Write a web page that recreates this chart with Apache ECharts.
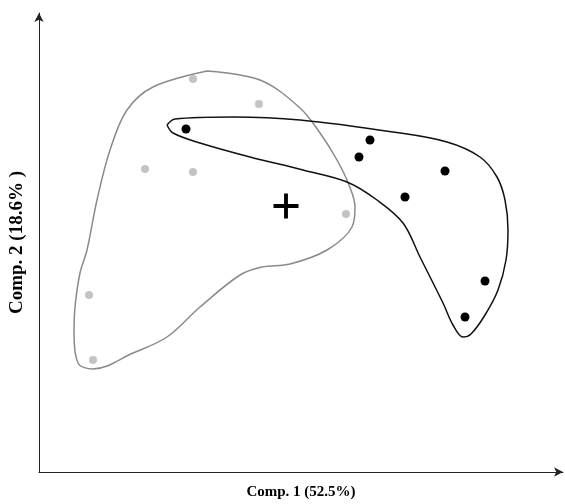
<!DOCTYPE html>
<html><head><meta charset="utf-8">
<script src="https://cdn.jsdelivr.net/npm/echarts@6/dist/echarts.min.js"></script>
<style>html,body{margin:0;padding:0;background:#fff}#c{width:565px;height:504px}</style>
</head><body><div id="c"></div>
<script>
// Values on arbitrary score scale (x 0..524, y 0..459)
const grayPoints = [[154,393],[220,368],[106,303],[154,300],[307,258],[50,177],[54,112]];
const blackPoints = [[147,343],[331,332],[320,315],[406,301],[366,275],[446,191],[426,155]];
const centroid = [[247,266]];
const grayHull = [[168,401],[221,392],[261,364],[281,339],[298,312],[310,287],[316,265],[313,245],[288,222],[251,208],[223,205],[201,197],[161,165],[128,135],[94,119],[54,103],[39,109],[35,139],[36,165],[41,199],[48,222],[58,272],[71,322],[88,362],[114,385],[168,401]];
const blackHull = [[128,347],[136,353],[194,355],[261,352],[354,340],[408,330],[441,315],[458,295],[466,272],[469,242],[467,212],[459,182],[446,157],[432,138],[424,135],[414,147],[404,169],[381,215],[364,249],[338,272],[308,290],[264,302],[211,315],[161,329],[134,339],[128,347]];
const xName = 'Comp. 1 (52.5%)';
const yName = 'Comp. 2 (18.6% )';

const chart = echarts.init(document.getElementById('c'));
chart.setOption({
  animation:false,
  grid:{left:39, right:2, top:13, bottom:32, containLabel:false, outerBoundsMode:'none'},
  xAxis:{type:'value', min:0, max:524, name:xName, nameLocation:'middle', nameGap:13,
    nameTextStyle:{fontFamily:'Liberation Serif', fontWeight:'bold', fontSize:15, color:'#000'},
    axisLine:{show:true, lineStyle:{color:'#222', width:1}, symbol:['none','arrow'], symbolSize:[7,9]},
    axisTick:{show:false}, axisLabel:{show:false}, splitLine:{show:false}},
  yAxis:{type:'value', min:0, max:459, name:yName, nameLocation:'middle', nameGap:12, nameRotate:90,
    nameTextStyle:{fontFamily:'Liberation Serif', fontWeight:'bold', fontSize:19, color:'#000'},
    axisLine:{show:true, lineStyle:{color:'#222', width:1}, symbol:['none','arrow'], symbolSize:[7,9]},
    axisTick:{show:false}, axisLabel:{show:false}, splitLine:{show:false}},
  series:[
    {type:'line', data:grayHull, smooth:0.35, symbol:'none', lineStyle:{color:'#8a8a8a', width:1.5}, z:2},
    {type:'line', data:blackHull, smooth:0.35, symbol:'none', lineStyle:{color:'#111', width:1.5}, z:2},
    {type:'scatter', data:grayPoints, symbolSize:8, itemStyle:{color:'#b4b4b4'}, z:3},
    {type:'scatter', data:blackPoints, symbolSize:9, itemStyle:{color:'#000', opacity:1}, z:3},
    {type:'scatter', data:centroid, symbol:'path://M11,0h4v11h11v4h-11v11h-4v-11h-11v-4h11z', symbolSize:25, itemStyle:{color:'#000', opacity:1}, z:3}
  ]
});
</script></body></html>
